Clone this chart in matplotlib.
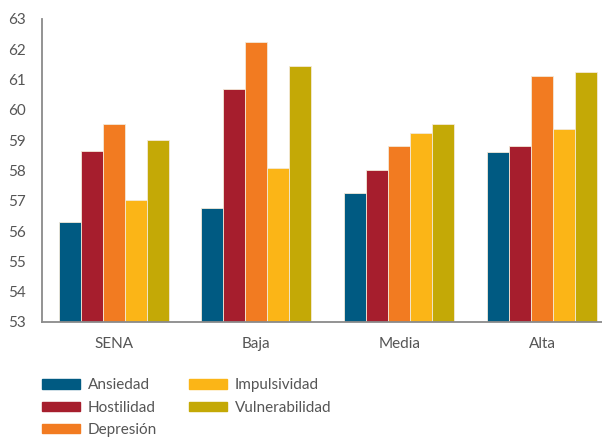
import numpy as np
import matplotlib.pyplot as plt
from matplotlib.patches import Patch

categorias = ['SENA', 'Baja', 'Media', 'Alta']
series = ['Ansiedad', 'Hostilidad', 'Depresión', 'Impulsividad', 'Vulnerabilidad']
ansiedad = [56.3, 56.75, 57.25, 58.6]
hostilidad = [58.65, 60.67, 58.02, 58.81]
depresion = [59.52, 62.24, 58.81, 61.1]
impulsividad = [57.02, 58.08, 59.24, 59.38]
vulnerabilidad = [59.0, 61.45, 59.52, 61.25]
colores = ['#005A82', '#A61E2D', '#F27B21', '#FBB517', '#C4A906']

valores = [ansiedad, hostilidad, depresion, impulsividad, vulnerabilidad]

plt.rcParams['font.family'] = ['Lato', 'DejaVu Sans']

fig = plt.figure(figsize=(6.02, 4.38), dpi=100)
ax = fig.add_axes([0.07, 0.265, 0.93, 0.692])

x = np.arange(len(categorias))
ancho = 0.154
for i, (nombre, vals) in enumerate(zip(series, valores)):
    ax.bar(x + (i - 2) * ancho, np.array(vals) - 53, ancho, bottom=53,
           color=colores[i], edgecolor='#f3e9d8', linewidth=0.6, label=nombre)

ax.set_ylim(53, 63)
ax.set_yticks(range(53, 64))
ax.set_xlim(-0.5, 3.42)
ax.set_xticks(x)
ax.set_xticklabels(categorias)
ax.tick_params(length=0, labelsize=11, colors='#555555')
ax.tick_params(axis='x', pad=11)
ax.tick_params(axis='y', pad=12)
for s in ['top', 'right']:
    ax.spines[s].set_visible(False)
for s in ['left', 'bottom']:
    ax.spines[s].set_color('#8a8a8a')
    ax.spines[s].set_linewidth(1.3)

handles = [Patch(color=c) for c in colores]
fig.legend(handles, series, ncol=2, loc='upper left', bbox_to_anchor=(0.059, 0.15),
           frameon=False, fontsize=11, handlelength=2.5, handleheight=0.55,
           labelspacing=0.55, columnspacing=2.1, handletextpad=0.5,
           labelcolor='#555555', borderaxespad=0)

fig.savefig('out.png', dpi=100)
